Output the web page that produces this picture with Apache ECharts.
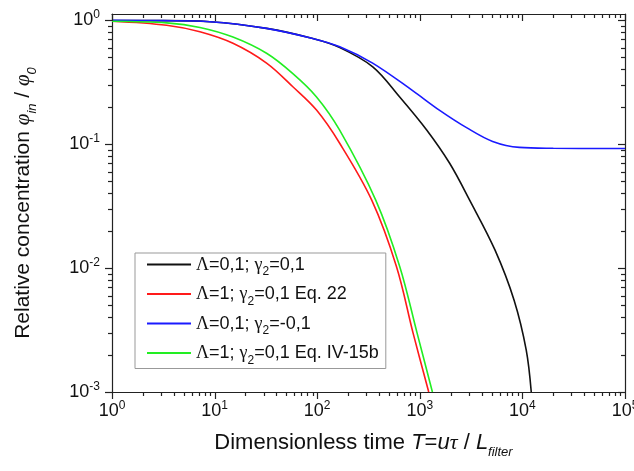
<!DOCTYPE html>
<html>
<head>
<meta charset="utf-8">
<script src="https://cdn.jsdelivr.net/npm/echarts@6/dist/echarts.min.js"></script>
<style>
  html, body { margin: 0; padding: 0; background: #fff; }
  #main { width: 634px; height: 471px; }
</style>
</head>
<body>
<div id="main"></div>
<script>
// Λ=0,1; γ2=0,1 (black)
var blackT = [1, 3.16, 9.0, 32.1, 90.6, 166, 348, 637, 1167, 1954, 3060, 5400, 8300, 10900, 12200];
var blackY = [0.99, 0.99, 0.97, 0.857, 0.71, 0.60, 0.42, 0.24, 0.13, 0.070, 0.0353, 0.014, 0.0055, 0.00218, 0.001];

// Λ=1; γ2=0,1 Eq. 22 (red)
var redT = [1, 3.41, 7.19, 15.1, 32.1, 57.9, 98.5, 165, 340, 592, 859, 1222];
var redY = [0.98, 0.91, 0.805, 0.65, 0.45, 0.29, 0.188, 0.102, 0.0353, 0.0103, 0.003, 0.001];

// Λ=0,1; γ2=-0,1 (blue)
var blueT = [1, 3.16, 9.0, 32.1, 90.6, 166, 347, 851, 1549, 2884, 5129, 9333, 20000, 100000];
var blueY = [0.995, 0.99, 0.97, 0.857, 0.71, 0.61, 0.45, 0.27, 0.188, 0.135, 0.105, 0.094, 0.0925, 0.092];

// Λ=1; γ2=0,1 Eq. IV-15b (green)
var greenT = [1, 3.41, 7.19, 15.1, 32.1, 57.9, 98.5, 165, 372, 637, 940, 1327];
var greenY = [0.98, 0.95, 0.873, 0.73, 0.54, 0.37, 0.24, 0.13, 0.0353, 0.0103, 0.003, 0.001];

var seriesNames = ['k', 'r', 'b', 'g'];
var legendLabels = {
    k: '{g|Λ}{t|=0,1; }{g|γ}{sub|2}{t|=0,1}',
    r: '{g|Λ}{t|=1; }{g|γ}{sub|2}{t|=0,1 Eq. 22}',
    b: '{g|Λ}{t|=0,1; }{g|γ}{sub|2}{t|=-0,1}',
    g: '{g|Λ}{t|=1; }{g|γ}{sub|2}{t|=0,1 Eq. IV-15b}'
};
var colors = ['#111111', '#ff1a1a', '#1a1aff', '#22ee22'];

var xMajor = [1, 10, 100, 1000, 10000, 100000];
var yMajor = [0.001, 0.01, 0.1, 1];

// minor tick positions 2..9 x decade
var xMinor = [];
for (var d = 1; d < 100000; d *= 10) {
    for (var m = 2; m <= 9; m++) xMinor.push(m * d);
}
var yMinor = [];
for (var e = 0.001; e < 0.5; e *= 10) {
    for (var n = 2; n <= 9; n++) yMinor.push(+(n * e).toPrecision(3));
}

function pairs(xs, ys) {
    var out = [];
    for (var i = 0; i < xs.length; i++) out.push([xs[i], ys[i]]);
    return out;
}

function powLabel(v) {
    var l = Math.log(v) / Math.LN10;
    var r = Math.round(l);
    if (Math.abs(l - r) > 1e-6) return '';
    return '{b|10}{s|' + r + '}';
}

var font = '"Liberation Sans", Arial, sans-serif';
var serif = '"Liberation Serif", "DejaVu Serif", serif';
var labelRich = {
    b: { fontSize: 18, fontFamily: font, color: '#111', lineHeight: 22 },
    s: { fontSize: 12, fontFamily: font, color: '#111', verticalAlign: 'top', lineHeight: 12 }
};
var frame = { show: true, lineStyle: { color: '#222', width: 1.2 } };

// rich styles for names: main tokens top-aligned, subscripts pushed down by padding
function nameRich(size, subPad, rightPad) {
    return {
        t: { fontSize: size, fontFamily: font, color: '#111', verticalAlign: 'top', lineHeight: size + 4 },
        i: { fontSize: size, fontFamily: font, fontStyle: 'italic', color: '#111', verticalAlign: 'top', lineHeight: size + 4 },
        g: { fontSize: size, fontFamily: serif, fontStyle: 'italic', color: '#111', verticalAlign: 'top', lineHeight: size + 4 },
        s: { fontSize: Math.round(size * 0.6), fontFamily: font, fontStyle: 'italic', color: '#111', verticalAlign: 'top', lineHeight: size + 4, padding: [subPad, rightPad || 0, 0, 0] }
    };
}

var tickData = [];
xMajor.forEach(function (v) { tickData.push([v, 1, 7, 0]); });
xMinor.forEach(function (v) { tickData.push([v, 1, 4, 0]); });
yMajor.forEach(function (v) { tickData.push([1, v, 7, 1]); });
yMinor.forEach(function (v) { tickData.push([1, v, 4, 1]); });

var chart = echarts.init(document.getElementById('main'), null, { renderer: 'canvas' });

var series = [];
var ts = [blackT, redT, blueT, greenT];
var ys = [blackY, redY, blueY, greenY];
for (var i = 0; i < 4; i++) {
    series.push({
        name: seriesNames[i],
        type: 'line',
        data: pairs(ts[i], ys[i]),
        smooth: 0.35,
        symbol: 'none',
        clip: true,
        lineStyle: { color: colors[i], width: 1.6 },
        itemStyle: { color: colors[i] },
        z: 3
    });
}

// axis ticks (Origin style: outward on bottom/left, inward on top/right)
series.push({
    type: 'custom',
    silent: true,
    clip: false,
    z: 5,
    data: tickData,
    renderItem: function (params, api) {
        var cs = params.coordSys;
        var len = api.value(2);
        var kind = api.value(3);
        var p = api.coord([api.value(0), api.value(1)]);
        var st = { stroke: '#222', lineWidth: 1.2 };
        if (kind === 0) {
            var x = Math.round(p[0]) + 0.5;
            var b = cs.y + cs.height;
            return { type: 'group', children: [
                { type: 'line', shape: { x1: x, y1: b, x2: x, y2: b + len }, style: st },
                { type: 'line', shape: { x1: x, y1: cs.y, x2: x, y2: cs.y + len }, style: st }
            ] };
        }
        var y = Math.round(p[1]) + 0.5;
        var r = cs.x + cs.width;
        return { type: 'group', children: [
            { type: 'line', shape: { x1: cs.x - len, y1: y, x2: cs.x, y2: y }, style: st },
            { type: 'line', shape: { x1: r - len, y1: y, x2: r, y2: y }, style: st }
        ] };
    }
});

var option = {
    animation: false,
    backgroundColor: '#fff',
    grid: { left: 112, right: 9, top: 14, bottom: 79, outerBoundsMode: 'none' },
    legend: {
        data: seriesNames,
        orient: 'vertical',
        left: 135,
        top: 253,
        icon: 'rect',
        itemWidth: 44,
        itemHeight: 2,
        itemGap: 5.5,
        padding: [1, 7, 2, 12],
        backgroundColor: '#fff',
        borderColor: '#999',
        borderWidth: 1,
        borderRadius: 0,
        formatter: function (name) { return legendLabels[name]; },
        textStyle: {
            fontSize: 18,
            fontFamily: font,
            color: '#111',
            rich: {
                t: { fontSize: 18, fontFamily: font, color: '#111', verticalAlign: 'top', lineHeight: 21, padding: [2, 0, 0, 0] },
                g: { fontSize: 18, fontFamily: serif, color: '#111', verticalAlign: 'top', lineHeight: 21, padding: [2, 0, 0, 0] },
                sub: { fontSize: 12, fontFamily: font, color: '#111', verticalAlign: 'top', lineHeight: 21, padding: [12, 0, 0, 0] }
            }
        }
    },
    xAxis: [{
        type: 'log',
        min: 1,
        max: 100000,
        position: 'bottom',
        axisLine: frame,
        axisTick: { show: false },
        splitLine: { show: false },
        axisLabel: { margin: 8, formatter: powLabel, rich: labelRich, showMaxLabel: true },
        name: '{t|Dimensionless time }{i|T}{t|=}{i|u}{g|τ}{t| / }{i|L}{s|filter}',
        nameLocation: 'middle',
        nameGap: 40,
        nameTextStyle: { rich: nameRich(22, 14, 10) }
    }, {
        type: 'log',
        min: 1,
        max: 100000,
        position: 'top',
        axisLine: frame,
        axisTick: { show: false },
        axisLabel: { show: false },
        splitLine: { show: false }
    }],
    yAxis: [{
        type: 'log',
        min: 0.001,
        max: 1.12,
        axisLine: frame,
        axisTick: { show: false },
        splitLine: { show: false },
        axisLabel: { margin: 12, formatter: powLabel, rich: labelRich },
        name: '{t|Relative concentration }{g|φ}{s|in}{t| / }{g|φ}{s|0}',
        nameLocation: 'middle',
        nameRotate: 90,
        nameGap: 74,
        nameTextStyle: { rich: nameRich(21, 13) }
    }, {
        type: 'log',
        min: 0.001,
        max: 1.12,
        position: 'right',
        axisLine: frame,
        axisTick: { show: false },
        axisLabel: { show: false },
        splitLine: { show: false }
    }],
    series: series
};

chart.setOption(option);
</script>
</body>
</html>
